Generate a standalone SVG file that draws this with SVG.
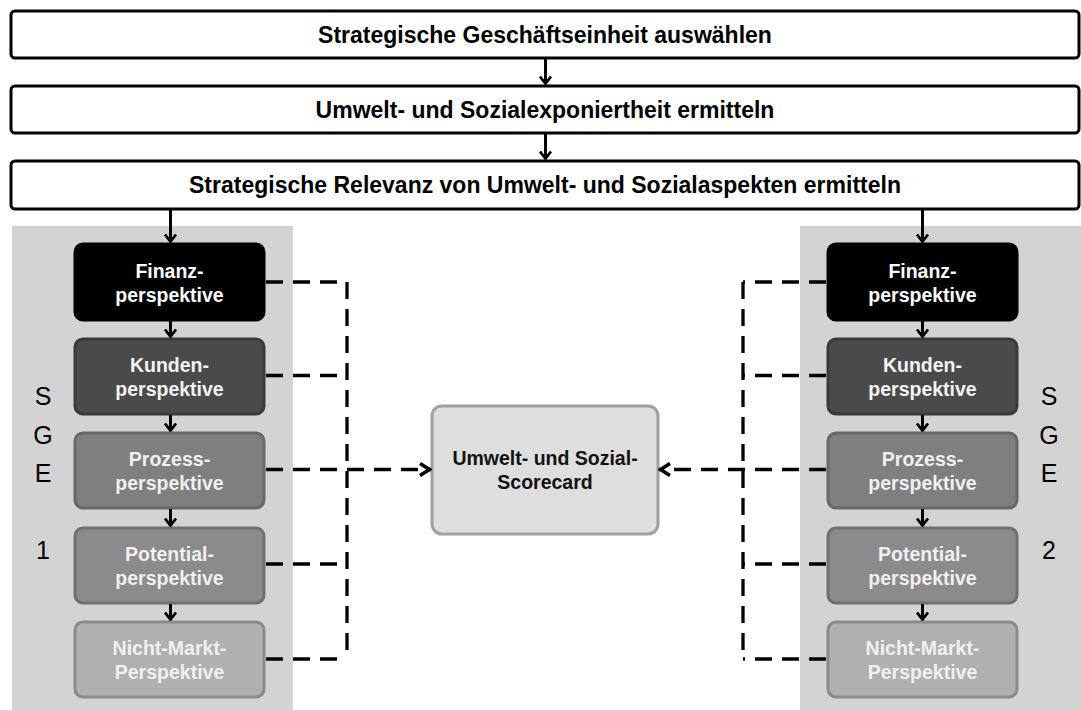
<svg xmlns="http://www.w3.org/2000/svg" width="1081" height="710" viewBox="0 0 1081 710">
<defs>
<style>
.top{fill:#fff;stroke:#000;stroke-width:3}
.tt{font-family:"Liberation Sans",Arial,sans-serif;font-weight:bold;font-size:23px;fill:#000;text-anchor:middle}
.pt{font-family:"Liberation Sans",Arial,sans-serif;font-weight:bold;font-size:19.5px;text-anchor:middle}
.sge{font-family:"Liberation Sans",Arial,sans-serif;font-size:25px;fill:#000;text-anchor:middle}
.panel{fill:#d3d3d3}
.b1{fill:#000;stroke:#000;stroke-width:3}
.b2{fill:#4a4a4a;stroke:#3a3a3a;stroke-width:3}
.b3{fill:#7f7f7f;stroke:#686868;stroke-width:3}
.b4{fill:#8b8b8b;stroke:#707070;stroke-width:3}
.b5{fill:#b0b0b0;stroke:#8a8a8a;stroke-width:3}
.sc{fill:#dedede;stroke:#a0a0a0;stroke-width:3}
.solid{fill:none;stroke:#000;stroke-width:3;marker-end:url(#ah)}
.dash{fill:none;stroke:#000;stroke-width:3.3;stroke-dasharray:17 10}
.dasha{fill:none;stroke:#000;stroke-width:3.3;stroke-dasharray:17 10;marker-end:url(#dh)}
</style>
<marker id="ah" markerUnits="userSpaceOnUse" viewBox="0 0 10 14" refX="9" refY="7" markerWidth="10" markerHeight="14" orient="auto">
<path d="M1.5,1.5 L8.5,7 L1.5,12.5" fill="none" stroke="#000" stroke-width="2.8"/>
</marker>
<marker id="dh" markerUnits="userSpaceOnUse" viewBox="0 0 14 16" refX="13" refY="8" markerWidth="14" markerHeight="16" orient="auto">
<path d="M2,2 L11.5,8 L2,14" fill="none" stroke="#000" stroke-width="3.6"/>
</marker>
</defs>
<rect width="1081" height="710" fill="#fff"/>
<rect class="panel" x="12" y="226" width="281" height="484"/>
<rect class="panel" x="800" y="226" width="281" height="484"/>

<g id="step1"><rect class="top" x="11" y="11" width="1068" height="47" rx="4"/><text class="tt" x="545" y="42.5">Strategische Geschäftseinheit auswählen</text></g>
<g id="step2"><rect class="top" x="11" y="86" width="1068" height="47" rx="4"/><text class="tt" x="545" y="117.5">Umwelt- und Sozialexponiertheit ermitteln</text></g>
<g id="step3"><rect class="top" x="11" y="161" width="1068" height="48" rx="4"/><text class="tt" x="545" y="193">Strategische Relevanz von Umwelt- und Sozialaspekten ermitteln</text></g>

<g id="sge1-label"><text class="sge" x="43" y="405">S</text><text class="sge" x="43" y="443.5">G</text><text class="sge" x="43" y="482">E</text><text class="sge" x="43" y="559">1</text></g>
<g id="sge2-label"><text class="sge" x="1049" y="405">S</text><text class="sge" x="1049" y="443.5">G</text><text class="sge" x="1049" y="482">E</text><text class="sge" x="1049" y="559">2</text></g>

<g id="l-finanz"><rect class="b1" x="75" y="244" width="189" height="76" rx="8"/><text class="pt" fill="#fff" x="169.5" y="278">Finanz-</text><text class="pt" fill="#fff" x="169.5" y="302">perspektive</text></g>
<g id="l-kunden"><rect class="b2" x="75" y="339" width="189" height="75" rx="8"/><text class="pt" fill="#f4f4f4" x="169.5" y="372">Kunden-</text><text class="pt" fill="#f4f4f4" x="169.5" y="396">perspektive</text></g>
<g id="l-prozess"><rect class="b3" x="75" y="433" width="189" height="75" rx="8"/><text class="pt" fill="#f0f0f0" x="169.5" y="466">Prozess-</text><text class="pt" fill="#f0f0f0" x="169.5" y="490">perspektive</text></g>
<g id="l-potential"><rect class="b4" x="75" y="528" width="189" height="75" rx="8"/><text class="pt" fill="#f0f0f0" x="169.5" y="561">Potential-</text><text class="pt" fill="#f0f0f0" x="169.5" y="585">perspektive</text></g>
<g id="l-nichtmarkt"><rect class="b5" x="75" y="622" width="189" height="75" rx="8"/><text class="pt" fill="#f0f0f0" x="169.5" y="655">Nicht-Markt-</text><text class="pt" fill="#f0f0f0" x="169.5" y="679">Perspektive</text></g>

<g id="r-finanz"><rect class="b1" x="828" y="244" width="189" height="76" rx="8"/><text class="pt" fill="#fff" x="922.5" y="278">Finanz-</text><text class="pt" fill="#fff" x="922.5" y="302">perspektive</text></g>
<g id="r-kunden"><rect class="b2" x="828" y="339" width="189" height="75" rx="8"/><text class="pt" fill="#f4f4f4" x="922.5" y="372">Kunden-</text><text class="pt" fill="#f4f4f4" x="922.5" y="396">perspektive</text></g>
<g id="r-prozess"><rect class="b3" x="828" y="433" width="189" height="75" rx="8"/><text class="pt" fill="#f0f0f0" x="922.5" y="466">Prozess-</text><text class="pt" fill="#f0f0f0" x="922.5" y="490">perspektive</text></g>
<g id="r-potential"><rect class="b4" x="828" y="528" width="189" height="75" rx="8"/><text class="pt" fill="#f0f0f0" x="922.5" y="561">Potential-</text><text class="pt" fill="#f0f0f0" x="922.5" y="585">perspektive</text></g>
<g id="r-nichtmarkt"><rect class="b5" x="828" y="622" width="189" height="75" rx="8"/><text class="pt" fill="#f0f0f0" x="922.5" y="655">Nicht-Markt-</text><text class="pt" fill="#f0f0f0" x="922.5" y="679">Perspektive</text></g>

<g id="scorecard"><rect class="sc" x="432" y="406" width="226" height="128" rx="10"/><text class="pt" fill="#111" font-size="20.7" x="545" y="465">Umwelt- und Sozial-</text><text class="pt" fill="#111" font-size="20.7" x="545" y="489">Scorecard</text></g>

<g id="connectors">
<line class="solid" x1="545.5" y1="59" x2="545.5" y2="84"/>
<line class="solid" x1="545.5" y1="134" x2="545.5" y2="159"/>
<line class="solid" x1="170.5" y1="210" x2="170.5" y2="242"/>
<line class="solid" x1="922.5" y1="210" x2="922.5" y2="242"/>
<line class="solid" x1="170.5" y1="321" x2="170.5" y2="337"/>
<line class="solid" x1="170.5" y1="415" x2="170.5" y2="431"/>
<line class="solid" x1="170.5" y1="509" x2="170.5" y2="526"/>
<line class="solid" x1="170.5" y1="604" x2="170.5" y2="620"/>
<line class="solid" x1="922.5" y1="321" x2="922.5" y2="337"/>
<line class="solid" x1="922.5" y1="415" x2="922.5" y2="431"/>
<line class="solid" x1="922.5" y1="509" x2="922.5" y2="526"/>
<line class="solid" x1="922.5" y1="604" x2="922.5" y2="620"/>
<path class="dash" d="M266,282 H347"/>
<path class="dash" d="M266,375.5 H347"/>
<path class="dash" d="M266,564 H347"/>
<path class="dash" d="M266,659 H347"/>
<path class="dash" d="M347,282 V659"/>
<path class="dasha" d="M266,469.5 H431"/>
<path class="dash" d="M826,282 H743"/>
<path class="dash" d="M826,375.5 H743"/>
<path class="dash" d="M826,564 H743"/>
<path class="dash" d="M826,659 H743"/>
<path class="dash" d="M743,282 V659"/>
<path class="dasha" d="M826,469.5 H659"/>
</g>
</svg>
